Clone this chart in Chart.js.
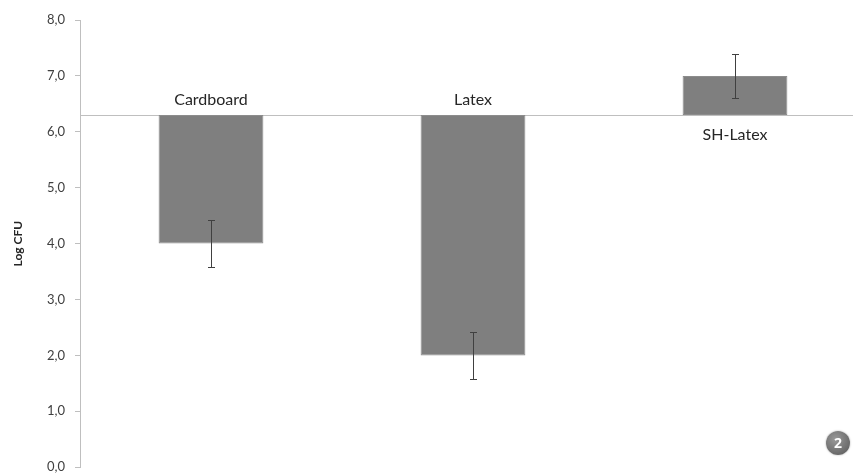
<!DOCTYPE html>
<html>
<head>
<meta charset="utf-8">
<script src="https://cdn.jsdelivr.net/npm/chart.js@4/dist/chart.umd.min.js"></script>
<style>
  html, body { margin: 0; padding: 0; background: #fff; overflow: hidden; }
  #wrap { position: relative; width: 853px; height: 475px; overflow: hidden; }
  #badge {
    position: absolute; left: 826px; top: 431px; width: 24px; height: 24px; border-radius: 50%;
    background: radial-gradient(circle at 40% 35%, #9a9a9a, #6a6a6a 70%, #555 100%);
    color: #fff; font: bold 14px "Open Sans", sans-serif; text-align: center; line-height: 24px;
    box-shadow: 0 0 2px rgba(0,0,0,0.35);
  }
</style>
</head>
<body>
<div id="wrap">
  <canvas id="c" width="866" height="485"></canvas>
  <div id="badge">2</div>
</div>
<script>
const categories = ["Cardboard", "Latex", "SH-Latex"];
const baseline = 6.3;
const values = [4.0, 2.0, 7.0];
const errors = [0.42, 0.42, 0.40];
const yTicks = [0, 1, 2, 3, 4, 5, 6, 7, 8];

const labelFont = '16px Lato, "Open Sans", sans-serif';

const overlayPlugin = {
  id: 'overlay',
  beforeDatasetsDraw(chart) {
    const { ctx, chartArea, scales: { y } } = chart;
    const yb = Math.round(y.getPixelForValue(baseline)) + 0.5;
    ctx.save();
    ctx.strokeStyle = '#bfbfbf';
    ctx.lineWidth = 1;
    ctx.beginPath();
    ctx.moveTo(chartArea.left, yb);
    ctx.lineTo(chart.width, yb);
    ctx.stroke();
    ctx.restore();
  },
  afterDatasetsDraw(chart) {
    const { ctx, scales: { x, y } } = chart;
    ctx.save();
    ctx.strokeStyle = '#404040';
    ctx.lineWidth = 1;
    values.forEach((v, i) => {
      const cx = Math.round(x.getPixelForValue(i)) + 0.5;
      const yt = Math.round(y.getPixelForValue(v + errors[i])) + 0.5;
      const ybm = Math.round(y.getPixelForValue(v - errors[i])) + 0.5;
      ctx.beginPath();
      ctx.moveTo(cx, yt); ctx.lineTo(cx, ybm);
      ctx.moveTo(cx - 3.5, yt); ctx.lineTo(cx + 3.5, yt);
      ctx.moveTo(cx - 3.5, ybm); ctx.lineTo(cx + 3.5, ybm);
      ctx.stroke();
    });
    ctx.fillStyle = '#262626';
    ctx.font = labelFont;
    ctx.textAlign = 'center';
    const yb = y.getPixelForValue(baseline);
    categories.forEach((c, i) => {
      const cx = x.getPixelForValue(i);
      if (values[i] < baseline) {
        ctx.textBaseline = 'bottom';
        ctx.fillText(c, cx, yb - 7);
      } else {
        ctx.textBaseline = 'top';
        ctx.fillText(c, cx, yb + 12);
      }
    });
    ctx.restore();
  }
};

new Chart(document.getElementById('c'), {
  type: 'bar',
  data: {
    labels: categories,
    datasets: [{
      data: values.map(v => [baseline, v]),
      backgroundColor: '#7f7f7f',
      borderColor: '#8c8c8c',
      borderWidth: 1,
      borderSkipped: false,
      barPercentage: 0.8,
      categoryPercentage: 0.5
    }]
  },
  options: {
    responsive: false,
    animation: false,
    layout: { padding: { top: 20, bottom: 0, left: 0, right: 0 } },
    plugins: { legend: { display: false }, tooltip: { enabled: false } },
    scales: {
      x: { display: false },
      y: {
        min: 0, max: 8,
        afterFit(scale) { scale.width = 80; },
        afterBuildTicks(scale) { scale.ticks = yTicks.map(v => ({ value: v })); },
        border: { display: true, color: '#bfbfbf' },
        grid: { drawOnChartArea: false, drawTicks: true, tickLength: 5, color: '#bfbfbf' },
        ticks: {
          padding: 10,
          color: '#404040',
          font: { family: 'Lato, "Open Sans", sans-serif', size: 13 },
          callback: v => v.toFixed(1).replace('.', ',')
        },
        title: {
          display: true, text: 'Log CFU', color: '#262626',
          font: { family: 'Lato, "Open Sans", sans-serif', size: 12, weight: 'bold' },
          padding: { top: 11, bottom: 0 }
        }
      }
    }
  },
  plugins: [overlayPlugin]
});
</script>
</body>
</html>
